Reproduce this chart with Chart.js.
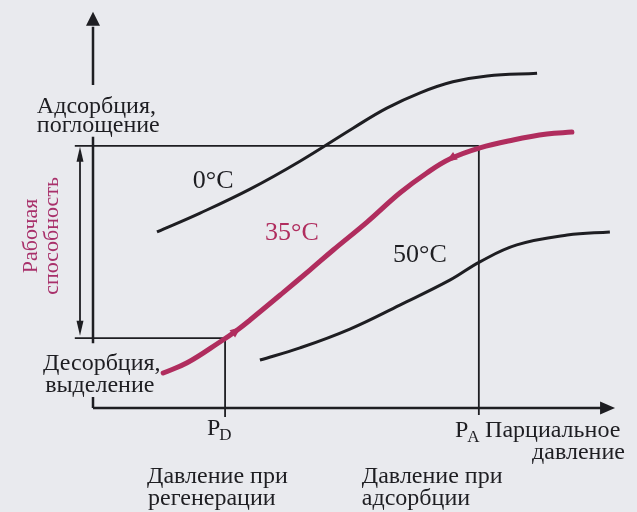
<!DOCTYPE html>
<html lang="ru">
<head>
<meta charset="UTF-8">
<title>Изотермы адсорбции</title>
<script src="https://cdn.jsdelivr.net/npm/chart.js"></script>
<style>
    html, body { margin: 0; padding: 0; background: #e9eaee; }
    canvas { display: block; }
</style>
</head>
<body>
<canvas id="grafico" width="637" height="512"></canvas>
<script>
// изотермы: парциальное давление (усл. ед.) и величина адсорбции (усл. ед.)
var davl0 = [12.3, 20.6, 30.2, 39.8, 50, 56.5, 62.9, 69.2, 75.8, 85.4];
var ads0  = [44.8, 49.6, 55.7, 62.8, 71.2, 76.3, 80.2, 83.0, 84.5, 85.2];

var davl35 = [13.5, 18.1, 24.4, 27.7, 30.2, 36.5, 41.7, 46.2, 52.7, 59.0, 64.2, 68.7, 74.4, 80.8, 87.3, 92.1];
var ads35  = [8.9, 11.5, 16.8, 19.8, 22.4, 29.3, 35.1, 40.2, 47.3, 54.7, 59.8, 63.4, 66.2, 68.2, 69.7, 70.2];

var davl50 = [32.1, 39.8, 49.4, 59.0, 68.7, 74.4, 81.5, 91.2, 99.4];
var ads50  = [12.2, 15.3, 20.1, 26.2, 32.6, 37.2, 41.5, 44.0, 44.8];

// давление регенерации / адсорбции и уровни адсорбции
var pD = 25.4, pA = 74.2;
var aDes = 17.8, aAds = 66.7;

var magenta = '#b02d5e';
var chern = '#1e1e22';

function tochki(xs, ys) {
    return xs.map(function (v, i) { return { x: v, y: ys[i] }; });
}

// подписи (x, y в единицах графика)
var podpisi = [
    { t: 'Адсорбция,', x: -10.8, y: 75.1 },
    { t: 'поглощение', x: -10.8, y: 70.2 },
    { t: 'Десорбция,', x: -9.6, y: 9.7 },
    { t: 'выделение', x: -9.2, y: 4.1 },
    { t: 'Парциальное', x: 75.4, y: -7.4 },
    { t: 'давление', x: 102.3, y: -13.0, align: 'right' },
    { t: 'Давление при', x: 10.4, y: -19.1 },
    { t: 'регенерации', x: 10.6, y: -24.7 },
    { t: 'Давление при', x: 51.7, y: -19.1 },
    { t: 'адсорбции', x: 51.7, y: -24.7 },
    { t: '0°C', x: 19.2, y: 56.0, big: true },
    { t: '35°C', x: 33.1, y: 42.7, big: true, cor: magenta },
    { t: '50°C', x: 57.7, y: 37.2, big: true }
];

function seta(ctx, x, y, ang, len, half) {
    ctx.save();
    ctx.translate(x, y);
    ctx.rotate(ang);
    ctx.beginPath();
    ctx.moveTo(0, 0);
    ctx.lineTo(-len, -half);
    ctx.lineTo(-len, half);
    ctx.closePath();
    ctx.fill();
    ctx.restore();
}

var fundo = {
    id: 'fundo',
    beforeDraw: function (chart) {
        var ctx = chart.ctx;
        ctx.save();
        ctx.fillStyle = '#e9eaee';
        ctx.fillRect(0, 0, chart.width, chart.height);
        ctx.restore();
    }
};

var desenho = {
    id: 'desenho',
    afterDatasetsDraw: function (chart) {
        var ctx = chart.ctx;
        var sx = chart.scales.x, sy = chart.scales.y;
        function X(v) { return sx.getPixelForValue(v); }
        function Y(v) { return sy.getPixelForValue(v); }

        ctx.save();
        // оси (с разрывами под подписями)
        ctx.strokeStyle = chern;
        ctx.fillStyle = chern;
        ctx.lineWidth = 2.5;
        ctx.beginPath();
        ctx.moveTo(X(0), Y(0)); ctx.lineTo(X(0), Y(2.8));
        ctx.moveTo(X(0), Y(16.5)); ctx.lineTo(X(0), Y(69.0));
        ctx.moveTo(X(0), Y(82.2)); ctx.lineTo(X(0), Y(97));
        ctx.moveTo(X(0), Y(0)); ctx.lineTo(X(98), Y(0));
        ctx.stroke();
        seta(ctx, X(0), Y(100.8), -Math.PI / 2, 14, 7);
        seta(ctx, X(100.4), Y(0), 0, 15, 6.5);

        // рабочая способность
        ctx.lineWidth = 1.8;
        ctx.beginPath();
        ctx.moveTo(X(-2.5), Y(aAds - 3)); ctx.lineTo(X(-2.5), Y(aDes + 3));
        ctx.stroke();
        seta(ctx, X(-2.5), Y(aAds - 0.2), -Math.PI / 2, 15, 3.5);
        seta(ctx, X(-2.5), Y(aDes + 0.6), Math.PI / 2, 15, 3.5);

        // стрелки на изотерме 35°C
        var pts = chart.getDatasetMeta(1).data;
        ctx.fillStyle = magenta;
        [[3, 4], [11, 10]].forEach(function (par) {
            var a = pts[par[0]], b = pts[par[1]];
            var ang = Math.atan2(b.y - a.y, b.x - a.x);
            seta(ctx, a.x + 5 * Math.cos(ang), a.y + 5 * Math.sin(ang), ang, 11, 4.5);
        });

        // подписи
        ctx.textBaseline = 'alphabetic';
        podpisi.forEach(function (p) {
            ctx.font = (p.big ? '26px' : '24px') + ' "Liberation Serif", "DejaVu Serif", serif';
            ctx.fillStyle = p.cor || chern;
            ctx.textAlign = p.align || 'left';
            ctx.fillText(p.t, X(p.x), Y(p.y));
        });

        // P с индексами
        [['P', 'D', 21.9, -6.9], ['P', 'A', 69.6, -7.4]].forEach(function (p) {
            ctx.textAlign = 'left';
            ctx.fillStyle = chern;
            ctx.font = '24px "Liberation Serif", serif';
            var x0 = X(p[2]), y0 = Y(p[3]);
            ctx.fillText(p[0], x0, y0);
            var w = ctx.measureText(p[0]).width;
            ctx.font = '17px "Liberation Serif", serif';
            ctx.fillText(p[1], x0 + w - 1, y0 + 5);
        });

        // Рабочая способность (вертикально)
        ctx.fillStyle = '#a8306a';
        ctx.font = '22px "Liberation Serif", serif';
        ctx.textAlign = 'center';
        [['Рабочая', -10.8], ['способность', -6.7]].forEach(function (p) {
            ctx.save();
            ctx.translate(X(p[1]), Y(43.8));
            ctx.rotate(-Math.PI / 2);
            ctx.fillText(p[0], 0, 0);
            ctx.restore();
        });
        ctx.restore();
    }
};

var linha = { showLine: true, pointRadius: 0, clip: false, fill: false };

new Chart(document.getElementById('grafico'), {
    type: 'scatter',
    data: {
        datasets: [
            Object.assign({ label: '0°C', data: tochki(davl0, ads0), borderColor: chern, borderWidth: 3, tension: 0.4 }, linha),
            Object.assign({ label: '35°C', data: tochki(davl35, ads35), borderColor: magenta, borderWidth: 5, tension: 0.4, borderCapStyle: 'round' }, linha),
            Object.assign({ label: '50°C', data: tochki(davl50, ads50), borderColor: chern, borderWidth: 3, tension: 0.4 }, linha),
            Object.assign({ label: 'адс', data: [{ x: -3.5, y: aAds }, { x: pA, y: aAds }], borderColor: chern, borderWidth: 1.8 }, linha),
            Object.assign({ label: 'дес', data: [{ x: -3.5, y: aDes }, { x: pD, y: aDes }], borderColor: chern, borderWidth: 1.8 }, linha),
            Object.assign({ label: 'PD', data: [{ x: pD, y: aDes }, { x: pD, y: -2.3 }], borderColor: chern, borderWidth: 1.8 }, linha),
            Object.assign({ label: 'PA', data: [{ x: pA, y: aAds }, { x: pA, y: -1.8 }], borderColor: chern, borderWidth: 1.8 }, linha)
        ]
    },
    options: {
        responsive: false,
        animation: false,
        devicePixelRatio: 1,
        layout: { padding: { left: 93, right: 24, top: 15, bottom: 104 } },
        plugins: { legend: { display: false }, tooltip: { enabled: false } },
        scales: {
            x: { type: 'linear', min: 0, max: 100, display: false },
            y: { type: 'linear', min: 0, max: 100, display: false }
        }
    },
    plugins: [fundo, desenho]
});
</script>
</body>
</html>
